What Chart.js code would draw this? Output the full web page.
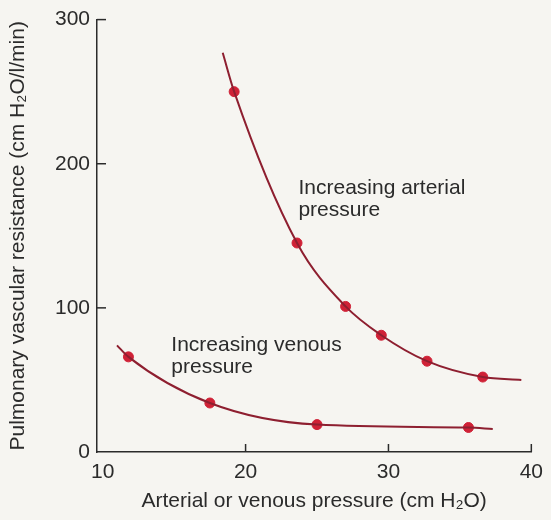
<!DOCTYPE html>
<html>
<head>
<meta charset="utf-8">
<script src="https://cdn.jsdelivr.net/npm/chart.js@4.4.1/dist/chart.umd.min.js"></script>
<style>
  html, body { margin: 0; padding: 0; background: #f6f5f1; }
  #wrap { width: 551px; height: 520px; }
</style>
</head>
<body>
<div id="wrap"><canvas id="chart"></canvas></div>
<script>
// Valores
const xTicks = [10, 20, 30, 40];
const yTicks = [0, 100, 200, 300];

const arterialX = [19.2, 23.6, 27.0, 29.5, 32.7, 36.6];
const arterialY = [250, 145, 101, 81, 63, 52];
const arterialStart = [18.4, 277];
const arterialEnd = [39.3, 50];

const venousX = [11.8, 17.5, 25.0, 35.6];
const venousY = [66, 34, 19, 17];
const venousStart = [11.0, 74];
const venousEnd = [37.3, 16];

const labels = [
    { lines: ['Increasing arterial', 'pressure'], x: 23.7, y: 179 },
    { lines: ['Increasing venous', 'pressure'], x: 14.8, y: 70 }
];

const lineColor = '#8e1f30';
const dotColor = '#cf2136';
const inkColor = '#2b2b2b';
const font = 'Liberation Sans, Arial, sans-serif';

function toPoints(xs, ys) {
    return xs.map((x, i) => ({ x: x, y: ys[i] }));
}

function curve(start, xs, ys, end) {
    return [{ x: start[0], y: start[1] }].concat(toPoints(xs, ys), [{ x: end[0], y: end[1] }]);
}

// Ticks para dentro e textos do gráfico
const extras = {
    id: 'extras',
    afterDraw(chart) {
        const ctx = chart.ctx;
        const xs = chart.scales.x;
        const ys = chart.scales.y;
        const area = chart.chartArea;
        ctx.save();
        ctx.strokeStyle = inkColor;
        ctx.lineWidth = 1.5;
        yTicks.slice(1).forEach(v => {
            const py = ys.getPixelForValue(v);
            ctx.beginPath();
            ctx.moveTo(area.left, py);
            ctx.lineTo(area.left + 9, py);
            ctx.stroke();
        });
        xTicks.slice(1).forEach(v => {
            const px = xs.getPixelForValue(v);
            ctx.beginPath();
            ctx.moveTo(px, area.bottom);
            ctx.lineTo(px, area.bottom - 8);
            ctx.stroke();
        });
        ctx.fillStyle = inkColor;
        ctx.font = '21px ' + font;
        ctx.textBaseline = 'alphabetic';
        labels.forEach(l => {
            const px = xs.getPixelForValue(l.x);
            const py = ys.getPixelForValue(l.y);
            l.lines.forEach((t, i) => ctx.fillText(t, px, py + i * 22));
        });
        ctx.restore();
    }
};

const ctx = document.getElementById('chart').getContext('2d');
new Chart(ctx, {
    type: 'scatter',
    data: {
        datasets: [{
            label: 'Arterial curve',
            data: curve(arterialStart, arterialX, arterialY, arterialEnd),
            showLine: true,
            borderColor: lineColor,
            borderWidth: 2,
            pointRadius: 0,
            cubicInterpolationMode: 'monotone'
        }, {
            label: 'Venous curve',
            data: curve(venousStart, venousX, venousY, venousEnd),
            showLine: true,
            borderColor: lineColor,
            borderWidth: 2,
            pointRadius: 0,
            cubicInterpolationMode: 'monotone'
        }, {
            label: 'Arterial',
            data: toPoints(arterialX, arterialY),
            pointRadius: 5,
            pointBackgroundColor: dotColor,
            pointBorderColor: dotColor
        }, {
            label: 'Venous',
            data: toPoints(venousX, venousY),
            pointRadius: 5,
            pointBackgroundColor: dotColor,
            pointBorderColor: dotColor
        }]
    },
    options: {
        responsive: true,
        maintainAspectRatio: false,
        animation: false,
        layout: { padding: { top: 17, right: 11, left: 0, bottom: 0 } },
        plugins: {
            legend: { display: false },
            tooltip: { enabled: false }
        },
        scales: {
            x: {
                type: 'linear',
                min: 9.6,
                max: 40,
                afterBuildTicks(scale) {
                    scale.ticks = xTicks.map(v => ({ value: v }));
                },
                afterFit(scale) { scale.height = 68; },
                grid: { display: false, drawTicks: false },
                border: { display: true, color: inkColor, width: 1.5 },
                ticks: { color: inkColor, font: { family: font, size: 21 }, padding: 8, maxRotation: 0 },
                title: {
                    display: true,
                    text: 'Arterial or venous pressure (cm H\u2082O)',
                    color: inkColor,
                    font: { family: font, size: 21 },
                    padding: { top: 0, bottom: 6 }
                }
            },
            y: {
                min: 0,
                max: 300,
                afterBuildTicks(scale) {
                    scale.ticks = yTicks.map(v => ({ value: v }));
                },
                afterFit(scale) { scale.width = 97; },
                grid: { display: false, drawTicks: false },
                border: { display: true, color: inkColor, width: 1.5 },
                ticks: { color: inkColor, font: { family: font, size: 21 }, padding: 7 },
                title: {
                    display: true,
                    text: 'Pulmonary vascular resistance (cm H\u2082O/l/min)',
                    color: inkColor,
                    font: { family: font, size: 21 },
                    padding: { top: 6, bottom: 0 }
                }
            }
        }
    },
    plugins: [extras]
});
</script>
</body>
</html>
